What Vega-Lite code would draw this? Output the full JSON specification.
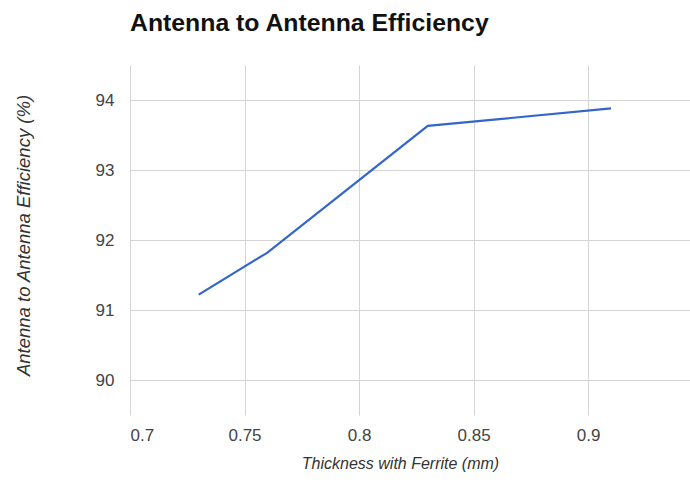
{
  "$schema": "https://vega.github.io/schema/vega-lite/v6.json",
  "width": 560,
  "height": 350,
  "autosize": "none",
  "padding": {"left": 130, "top": 65, "right": 0, "bottom": 81},
  "background": "white",
  "title": {
    "text": "Antenna to Antenna Efficiency",
    "anchor": "start",
    "frame": "group",
    "font": "Liberation Sans",
    "fontSize": 24.8,
    "fontWeight": "bold",
    "color": "#111111",
    "offset": 29
  },
  "data": {
    "values": [
      {"thickness": 0.73, "efficiency": 91.22},
      {"thickness": 0.76, "efficiency": 91.82},
      {"thickness": 0.83, "efficiency": 93.63},
      {"thickness": 0.91, "efficiency": 93.88}
    ]
  },
  "mark": {"type": "line", "color": "#3366CC", "strokeWidth": 2.2},
  "encoding": {
    "x": {
      "field": "thickness",
      "type": "quantitative",
      "scale": {"domain": [0.7, 0.9445], "nice": false, "zero": false},
      "axis": {
        "title": "Thickness with Ferrite (mm)",
        "values": [0.7, 0.75, 0.8, 0.85, 0.9],
        "format": "~g",
        "domain": false,
        "ticks": false,
        "grid": true,
        "gridColor": "#d4d4d4",
        "gridWidth": 1,
        "labelFont": "Liberation Sans",
        "labelFontSize": 17,
        "labelColor": "#444444",
        "labelPadding": 12,
        "titleFont": "Liberation Sans",
        "titleFontSize": 16,
        "titleFontStyle": "italic",
        "titleFontWeight": "normal",
        "titleColor": "#333333",
        "titlePadding": 12,
        "titleX": 270
      }
    },
    "y": {
      "field": "efficiency",
      "type": "quantitative",
      "scale": {"domain": [89.5, 94.5], "nice": false, "zero": false},
      "axis": {
        "title": "Antenna to Antenna Efficiency (%)",
        "values": [90, 91, 92, 93, 94],
        "domain": false,
        "ticks": false,
        "grid": true,
        "gridColor": "#d4d4d4",
        "gridWidth": 1,
        "labelFont": "Liberation Sans",
        "labelFontSize": 17,
        "labelColor": "#444444",
        "labelPadding": 16,
        "titleFont": "Liberation Sans",
        "titleFontSize": 18.5,
        "titleFontStyle": "italic",
        "titleFontWeight": "normal",
        "titleColor": "#333333",
        "titleX": -97,
        "titleY": 170
      }
    }
  },
  "config": {"view": {"stroke": null}}
}
